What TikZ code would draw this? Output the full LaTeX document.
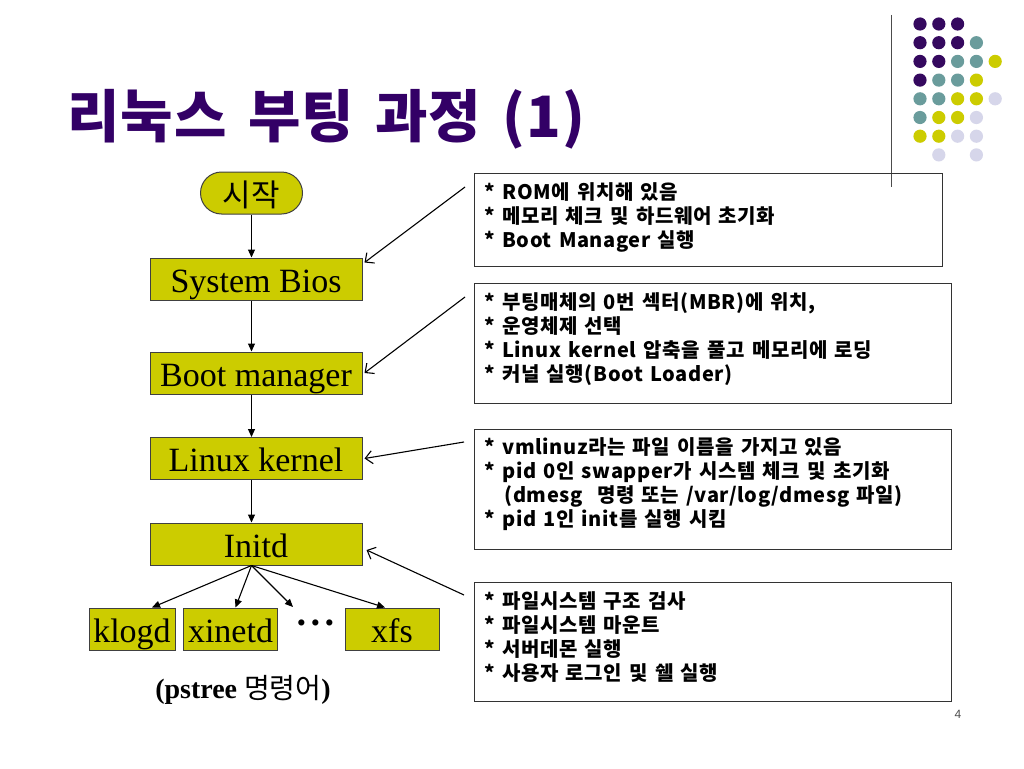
\documentclass[tikz,border=0pt]{standalone}
\usepackage{fontspec}
\setmainfont{Liberation Serif}
\newfontfamily\kr{Noto Sans CJK KR}
\newfontfamily\krw{Noto Sans CJK KR}[LetterSpace=3,WordSpace=1.4]
\newfontfamily\krt{Noto Sans CJK KR}[LetterSpace=2,WordSpace=1.5]
\newfontfamily\lsans{Liberation Sans}
\usetikzlibrary{arrows.meta}
\definecolor{ttl}{HTML}{330066}
\definecolor{dP}{HTML}{35095F}
\definecolor{dT}{HTML}{6A9C9C}
\definecolor{dY}{HTML}{CCCC00}
\definecolor{dL}{HTML}{D6D6EA}
\definecolor{boxfill}{HTML}{CCCC00}
\tikzset{
  flow/.style={draw=black!75, line width=1pt, fill=boxfill, inner sep=0pt,
    minimum height=42pt, text height=26pt, text depth=0pt, font=\fontsize{34}{34}\selectfont},
  farrow/.style={-{Triangle[length=8pt,width=7pt]}, line width=1.1pt, black},
  aarrow/.style={-{Straight Barb[length=7pt,width=13pt]}, line width=1.1pt, black},
  infobox/.style={draw=black!80, line width=1pt, anchor=north west, inner sep=0pt,
    font=\krw\bfseries\fontsize{20}{24}\selectfont},
}
\begin{document}
\begin{tikzpicture}[x=1pt,y=-1pt]
\useasboundingbox[fill=white] (0,0) rectangle (1024,768);

% decorative dots
\foreach \c/\r/\col in {0/0/dP,1/0/dP,2/0/dP,
  0/1/dP,1/1/dP,2/1/dP,3/1/dT,
  0/2/dP,1/2/dP,2/2/dT,3/2/dT,4/2/dY,
  0/3/dP,1/3/dT,2/3/dT,3/3/dY,
  0/4/dT,1/4/dT,2/4/dY,3/4/dY,4/4/dL,
  0/5/dT,1/5/dY,2/5/dY,3/5/dL,
  0/6/dY,1/6/dY,2/6/dL,3/6/dL,
  1/7/dL,3/7/dL}
  \fill[\col] ({920+18.8*\c},{24+18.7*\r}) circle (6.6);
\draw[black!70, line width=1pt] (891,15) -- (891,187);

% title
\node[anchor=west, text=ttl, font=\krt\bfseries\fontsize{57}{57}\selectfont, inner sep=0pt]
  (title) at (67,119) {리눅스 부팅 과정 (1)};

% flowchart
\node[flow, minimum width=102pt, rounded corners=21pt, font=\kr\fontsize{31}{31}\selectfont]
  (start) at (251.5,193) {시작};
\node[flow, minimum width=212pt] (bios) at (256,279) {System Bios};
\node[flow, minimum width=212pt] (bootm) at (256,373) {Boot manager};
\node[flow, minimum width=212pt] (kernel) at (256,458.5) {Linux kernel};
\node[flow, minimum width=212pt] (initd) at (256,544) {Initd};
\node[flow, minimum width=86pt] (klogd) at (132,629) {klogd};
\node[flow, minimum width=94pt] (xinetd) at (230.5,629) {xinetd};
\node[flow, minimum width=94pt] (xfs) at (392,629) {xfs};
\node[font=\bfseries\fontsize{38}{38}\selectfont, inner sep=0pt] (more) at (316,628)
  {·\kern1.5pt·\kern1.5pt·};
\node[font=\fontsize{28}{28}\selectfont, inner sep=0pt] (pstree) at (243,690)
  {\textbf{(pstree} {\kr 명령어}\textbf{)}};

\draw[farrow] (start.south) -- (start.south |- bios.north);
\draw[farrow] (start.south |- bios.south) -- (start.south |- bootm.north);
\draw[farrow] (start.south |- bootm.south) -- (start.south |- kernel.north);
\draw[farrow] (start.south |- kernel.south) -- (start.south |- initd.north);
\coordinate (root) at (start.south |- initd.south);
\draw[farrow] (root) -- ([xshift=20pt]klogd.north);
\draw[farrow] (root) -- ([xshift=5pt]xinetd.north);
\draw[farrow] (root) -- ([shift={(-23,-21)}]more.center);
\draw[farrow] (root) -- ([xshift=-7pt]xfs.north);

% info boxes
\node[infobox] (b1) at (474,173) {\begin{minipage}[t][93pt][t]{468pt}\vspace{9pt}\leftskip=10pt\baselineskip=24pt
{*} ROM에 위치해 있음\\
{*} 메모리 체크 및 하드웨어 초기화\\
{*} Boot Manager 실행\end{minipage}};
\node[infobox] (b2) at (474,283) {\begin{minipage}[t][120pt][t]{477pt}\vspace{9pt}\leftskip=10pt\baselineskip=24pt
{*} 부팅매체의 0번 섹터(MBR)에 위치,\\
{*} 운영체제 선택\\
{*} Linux kernel 압축을 풀고 메모리에 로딩\\
{*} 커널 실행(Boot Loader)\end{minipage}};
\node[infobox] (b3) at (474,428.5) {\begin{minipage}[t][120pt][t]{477pt}\vspace{9pt}\leftskip=10pt\baselineskip=24pt
{*} vmlinuz라는 파일 이름을 가지고 있음\\
{*} pid 0인 swapper가 시스템 체크 및 초기화\\
\hspace*{20pt}(dmesg\ \ 명령 또는 /var/log/dmesg 파일)\\
{*} pid 1인 init를 실행 시킴\end{minipage}};
\node[infobox] (b4) at (474,582) {\begin{minipage}[t][119pt][t]{477pt}\vspace{9pt}\leftskip=10pt\baselineskip=24pt
{*} 파일시스템 구조 검사\\
{*} 파일시스템 마운트\\
{*} 서버데몬 실행\\
{*} 사용자 로그인 및 쉘 실행\end{minipage}};

\coordinate (a1) at (465,187);
\coordinate (a2) at (465,297);
\coordinate (a3) at (464,442);
\coordinate (a4) at (464,595);
\draw[aarrow] (a1) -- ([shift={(2,5)}]bios.north east);
\draw[aarrow] (a2) -- ([xshift=2pt]bootm.east);
\draw[aarrow] (a3) -- ([xshift=2pt]kernel.east);
\draw[aarrow] (a4) -- ([shift={(4,6)}]initd.east);

\node[font=\lsans\fontsize{12}{12}\selectfont, text=black!70, inner sep=0pt] (pg) at (958,714) {4};
\end{tikzpicture}
\end{document}
